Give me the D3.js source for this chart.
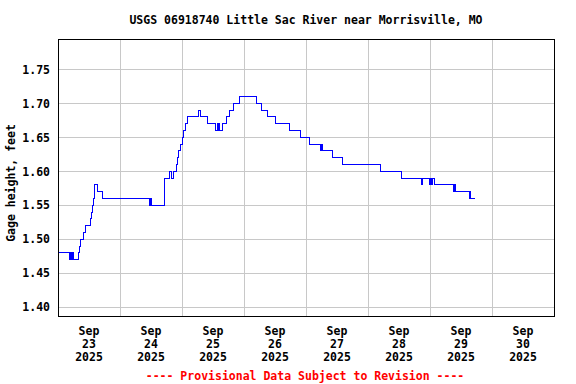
<!DOCTYPE html>
<html>
<head>
<meta charset="utf-8">
<script src="https://cdn.jsdelivr.net/npm/d3@7"></script>
<style>
  body { margin: 0; background: #fff; }
  text { font-family: "DejaVu Sans Mono", monospace; font-weight: bold; font-size: 11.5px; }
</style>
</head>
<body>
<svg id="chart" width="576" height="384"></svg>
<script>
// ------- data (hours since Sep 23 00:00, feet) -------
var hoursFromStart = [0, 0.2, 4.45, 4.84, 5.23, 5.61, 6.0, 7.94, 8.32, 8.9, 9.68, 10.65,
  12.7, 13.1, 13.5, 13.75, 14.0, 14.25, 15.3, 17.35, 35.4, 35.7, 36.1, 41.35, 43.2, 43.95,
  44.7, 45.75, 46.25, 46.75, 47.3, 48.1, 48.6, 49.35, 50.25, 54.3, 55.05, 58.05, 61.0,
  61.55, 61.95, 62.35, 62.7, 63.5, 65.25, 66.2, 67.95, 70.25, 76.65, 78.65, 81.2, 84.0,
  89.45, 93.75, 97.35, 101.5, 102.0, 102.4, 106.15, 110.15, 124.85, 132.85, 140.9, 141.25,
  143.8, 144.1, 144.7, 145.0, 145.55, 153.2, 153.5, 153.9, 159.3, 159.6, 159.8, 161.6];
var gageFeet = [1.49, 1.48, 1.47, 1.48, 1.47, 1.48, 1.47, 1.48, 1.49, 1.50, 1.51, 1.52,
  1.53, 1.54, 1.55, 1.56, 1.57, 1.58, 1.57, 1.56, 1.55, 1.56, 1.55, 1.59, 1.60, 1.59,
  1.60, 1.61, 1.62, 1.63, 1.64, 1.65, 1.66, 1.67, 1.68, 1.69, 1.68, 1.67, 1.66,
  1.67, 1.66, 1.67, 1.66, 1.67, 1.68, 1.69, 1.70, 1.71, 1.70, 1.69, 1.68, 1.67,
  1.66, 1.65, 1.64, 1.63, 1.64, 1.63, 1.62, 1.61, 1.60, 1.59, 1.58, 1.59,
  1.58, 1.59, 1.58, 1.59, 1.58, 1.57, 1.58, 1.57, 1.56, 1.57, 1.56, 1.56];

var yTicks = [1.40, 1.45, 1.50, 1.55, 1.60, 1.65, 1.70, 1.75];
var dayLabels = ["23", "24", "25", "26", "27", "28", "29", "30"];
var monthLabel = "Sep";
var yearLabel = "2025";

var titleText = "USGS 06918740 Little Sac River near Morrisville, MO";
var yTitle = "Gage height, feet";
var footer = "---- Provisional Data Subject to Revision ----";

// ------- layout -------
var plotL = 58, plotR = 554, plotT = 39, plotB = 316;
var svg = d3.select("#chart");

var start = new Date(2025, 8, 23);
var end = new Date(2025, 9, 1);

var x = d3.scaleTime().domain([start, end]).range([plotL, plotR]);
var y = d3.scaleLinear().domain([1.3872, 1.7946]).range([plotB, plotT]);

var data = hoursFromStart.map(function (h, i) {
    return { t: new Date(start.getTime() + h * 3600e3), v: gageFeet[i] };
});

// midnight grid lines
var midnights = d3.range(1, 8).map(function (d) { return d3.timeDay.offset(start, d); });

var gx = svg.append("g")
    .attr("transform", "translate(0," + plotB + ")")
    .call(d3.axisBottom(x).tickValues(midnights).tickSize(-(plotB - plotT)).tickFormat(""));
gx.select(".domain").remove();
gx.selectAll("line").attr("stroke", "#c8c8c8").attr("shape-rendering", "crispEdges");

var gy = svg.append("g")
    .attr("transform", "translate(" + plotL + ",0)")
    .call(d3.axisLeft(y).tickValues(yTicks).tickSize(-(plotR - plotL)).tickPadding(8)
        .tickFormat(d3.format(".2f")));
gy.select(".domain").remove();
gy.selectAll("line").attr("stroke", "#c8c8c8").attr("shape-rendering", "crispEdges");
gy.selectAll("text")
    .attr("fill", "#000")
    .style("font-family", "'DejaVu Sans Mono', monospace")
    .style("font-weight", "bold")
    .style("font-size", "11.5px");

// the gage line
var line = d3.line()
    .x(function (d) { return x(d.t); })
    .y(function (d) { return y(d.v); })
    .curve(d3.curveStepAfter);

svg.append("path")
    .datum(data)
    .attr("d", line)
    .attr("fill", "none")
    .attr("stroke", "#0000ff")
    .attr("stroke-width", 1)
    .attr("shape-rendering", "crispEdges");

// plot frame
svg.append("rect")
    .attr("x", plotL + 0.5).attr("y", plotT + 0.5)
    .attr("width", plotR - plotL).attr("height", plotB - plotT)
    .attr("fill", "none").attr("stroke", "#000").attr("stroke-width", 1);

// day labels at noon
function noon(i) {
    return x(d3.timeHour.offset(d3.timeDay.offset(start, i), 12));
}
var days = svg.append("g").selectAll("text")
    .data(dayLabels)
    .enter()
    .append("text")
    .attr("text-anchor", "middle");
days.append("tspan")
    .attr("x", function (d, i) { return noon(i); })
    .attr("y", 335).text(monthLabel);
days.append("tspan")
    .attr("x", function (d, i) { return noon(i); })
    .attr("y", 348).text(function (d) { return d; });
days.append("tspan")
    .attr("x", function (d, i) { return noon(i); })
    .attr("y", 361).text(yearLabel);

svg.append("text")
    .attr("x", (plotL + plotR) / 2).attr("y", 24)
    .attr("text-anchor", "middle")
    .text(titleText);

svg.append("text")
    .attr("transform", "translate(15,183) rotate(-90)")
    .attr("text-anchor", "middle")
    .text(yTitle);

svg.append("text")
    .attr("x", 305).attr("y", 380)
    .attr("text-anchor", "middle")
    .attr("fill", "#ff0000")
    .text(footer);
</script>
</body>
</html>
